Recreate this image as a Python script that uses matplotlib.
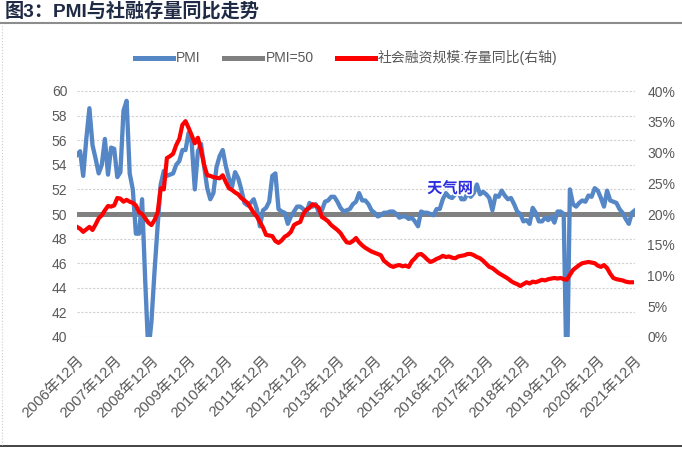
import matplotlib.pyplot as plt
import numpy as np
from matplotlib.lines import Line2D
import matplotlib.patheffects as pe

plt.rcParams['font.family'] = ['Liberation Sans', 'Noto Sans CJK SC']

# 制造业PMI, 2006年12月 - 2021年12月 (月度)
pmi = [
    54.8,
    55.1, 53.1, 56.1, 58.6, 55.6, 54.5, 53.3, 54.0, 56.1, 53.2, 55.4, 55.3,
    53.0, 53.4, 58.4, 59.2, 53.3, 52.0, 48.4, 48.4, 51.2, 44.6, 38.8, 41.2,
    45.3, 49.0, 52.4, 53.5, 53.1, 53.2, 53.3, 54.0, 54.3, 55.2, 55.2, 56.6,
    55.8, 52.0, 55.1, 55.7, 53.9, 52.1, 51.2, 51.7, 53.8, 54.7, 55.2, 53.9,
    52.9, 52.2, 53.4, 52.9, 52.0, 50.9, 50.7, 50.9, 51.2, 50.4, 49.0, 50.3,
    50.5, 51.0, 53.1, 53.3, 50.4, 50.2, 50.1, 49.2, 49.8, 50.2, 50.6, 50.6,
    50.4, 50.1, 50.9, 50.6, 50.8, 50.1, 50.3, 51.0, 51.1, 51.4, 51.4, 51.0,
    50.5, 50.2, 50.3, 50.4, 50.8, 51.0, 51.7, 51.1, 51.1, 50.8, 50.3, 50.1,
    49.8, 49.9, 50.1, 50.1, 50.2, 50.2, 50.0, 49.7, 49.8, 49.8, 49.6, 49.7,
    49.4, 49.0, 50.2, 50.1, 50.1, 50.0, 49.9, 50.4, 50.4, 51.2, 51.7, 51.4,
    51.3, 51.6, 51.8, 51.2, 51.2, 51.7, 51.4, 51.7, 52.4, 51.6, 51.8, 51.6,
    51.3, 50.3, 51.5, 51.4, 51.9, 51.5, 51.2, 51.3, 50.8, 50.2, 50.0, 49.4,
    49.5, 49.2, 50.5, 50.1, 49.4, 49.4, 49.7, 49.5, 49.8, 49.3, 50.2, 50.2,
    50.0, 35.7, 52.0, 50.8, 50.6, 50.9, 51.1, 51.0, 51.5, 51.4, 52.1, 51.9,
    51.3, 50.6, 51.9, 51.1, 51.0, 50.9, 50.4, 50.1, 49.6, 49.2, 50.1, 50.3,
]

# 社会融资规模:存量同比 (%), 右轴
tsf_yoy = [
    17.9,
    17.6, 17.1, 17.5, 17.9, 17.4, 18.3, 19.3, 19.8, 20.6, 21.3, 21.2, 21.4,
    22.6, 22.5, 22.0, 22.3, 22.0, 21.8, 21.4, 20.3, 20.0, 19.3, 18.6, 18.2,
    19.0, 20.2, 24.2, 24.0, 29.1, 29.4, 29.8, 31.2, 32.2, 34.5, 35.1, 34.0,
    32.8, 31.5, 32.4, 30.4, 28.0, 26.3, 26.2, 26.0, 25.9, 25.8, 26.3, 25.2,
    24.2, 23.9, 23.5, 23.2, 22.6, 22.2, 21.8, 21.0, 20.2, 19.6, 18.7, 17.8,
    16.6, 16.5, 16.4, 15.6, 15.3, 15.7, 16.3, 16.6, 17.1, 18.2, 18.5, 18.7,
    20.0, 20.7, 21.0, 21.6, 21.4, 21.0, 19.5, 19.2, 18.8, 18.2, 17.8, 17.4,
    16.9, 16.1, 15.4, 15.3, 15.6, 16.1, 15.4, 14.9, 14.5, 14.2, 13.9, 13.7,
    13.5, 13.3, 12.4, 12.0, 11.6, 11.4, 11.6, 11.7, 11.5, 11.6, 11.4, 12.3,
    12.8, 13.4, 13.5, 13.1, 12.6, 12.2, 12.4, 12.7, 12.9, 13.2, 13.0, 13.1,
    12.9, 12.8, 13.1, 13.2, 13.3, 13.5, 13.5, 13.3, 13.0, 12.8, 12.4, 11.9,
    11.4, 11.2, 10.8, 10.4, 10.1, 9.8, 9.5, 9.1, 8.8, 8.6, 8.3, 8.6,
    8.9, 8.7, 9.0, 8.9, 9.1, 9.3, 9.2, 9.4, 9.5, 9.6, 9.5, 9.6,
    9.4, 9.3, 10.1, 10.9, 11.3, 11.7, 12.0, 12.1, 12.2, 12.1, 12.0, 11.6,
    11.4, 11.7, 11.2, 10.3, 9.6, 9.4, 9.3, 9.2, 9.0, 8.9, 8.9,
]

tick_labels = ['2006年12月', '2007年12月', '2008年12月', '2009年12月',
               '2010年12月', '2011年12月', '2012年12月', '2013年12月',
               '2014年12月', '2015年12月', '2016年12月', '2017年12月',
               '2018年12月', '2019年12月', '2020年12月', '2021年12月']

BLUE = '#5587c6'
GRAY = '#808080'
RED = '#ff0000'
TXT = '#595959'

fig = plt.figure(figsize=(6.82, 4.49), dpi=100)
ax = fig.add_axes([77 / 682, 1 - 337 / 449, (635 - 77) / 682, (337 - 91) / 449])
ax2 = ax.twinx()

x = np.arange(len(pmi))
x2 = np.arange(len(tsf_yoy))

ax.plot(x, pmi, color=BLUE, lw=3.1, solid_joinstyle='round', zorder=3)
ax.axhline(50, color=GRAY, lw=3.6, zorder=2)
ax2.plot(x2, tsf_yoy, color=RED, lw=3, solid_joinstyle='round', zorder=3)

ax.set_xlim(0, 180)
ax.set_ylim(40, 60)
ax.set_yticks(np.arange(40, 61, 2))
ax2.set_ylim(0, 40)
ax2.set_yticks(np.arange(0, 41, 5))
ax2.set_yticklabels([f'{v}%' for v in range(0, 41, 5)])

ax.set_xticks(np.arange(0, 181, 12))
ax.set_xticklabels(tick_labels, rotation=45, ha='right', rotation_mode='anchor')

ax.grid(axis='y', color='#d0d0d0', lw=0.8, ls=(0, (2, 1.5)), zorder=0)
for a in (ax, ax2):
    for s in a.spines.values():
        s.set_visible(False)
    a.tick_params(length=0, labelsize=10, labelcolor=TXT)
ax.tick_params(axis='x', labelsize=10.8, pad=12)
ax.tick_params(axis='y', pad=7)
ax2.tick_params(axis='y', pad=9)

handles = [Line2D([], [], color=BLUE, lw=3.6),
           Line2D([], [], color=GRAY, lw=3.6),
           Line2D([], [], color=RED, lw=3.6)]
fig.legend(handles, ['PMI', 'PMI=50', '社会融资规模:存量同比(右轴)'],
           loc='center', bbox_to_anchor=(0.508, 0.871), ncol=3, frameon=False,
           fontsize=10, labelcolor=TXT, handlelength=2.7, handletextpad=0.25,
           columnspacing=1.7)

fig.text(0.007, 1 - 12 / 449, '图3：PMI与社融存量同比走势', fontsize=13.8,
         fontweight='bold', color='#1f2a44', va='center', ha='left',
         family=['Liberation Sans', 'Noto Sans CJK SC'])
fig.add_artist(Line2D([0, 1], [1 - 22.5 / 449, 1 - 22.5 / 449],
                      color='#8c8c8c', lw=1.5))
fig.add_artist(Line2D([0, 1], [1 - 445.5 / 449, 1 - 445.5 / 449],
                      color='#222222', lw=1.2))
fig.add_artist(Line2D([0.003, 0.003], [1 - 445 / 449, 1 - 24 / 449],
                      color='#cccccc', lw=0.8, ls=':'))

fig.text(450 / 682, 1 - 188 / 449, '天气网', fontsize=11, fontweight='bold',
         color='#2b2be0', ha='center', va='center', family=['Noto Sans CJK SC'],
         path_effects=[pe.withStroke(linewidth=2.5, foreground='white')])

fig.savefig('out.png', dpi=100)
